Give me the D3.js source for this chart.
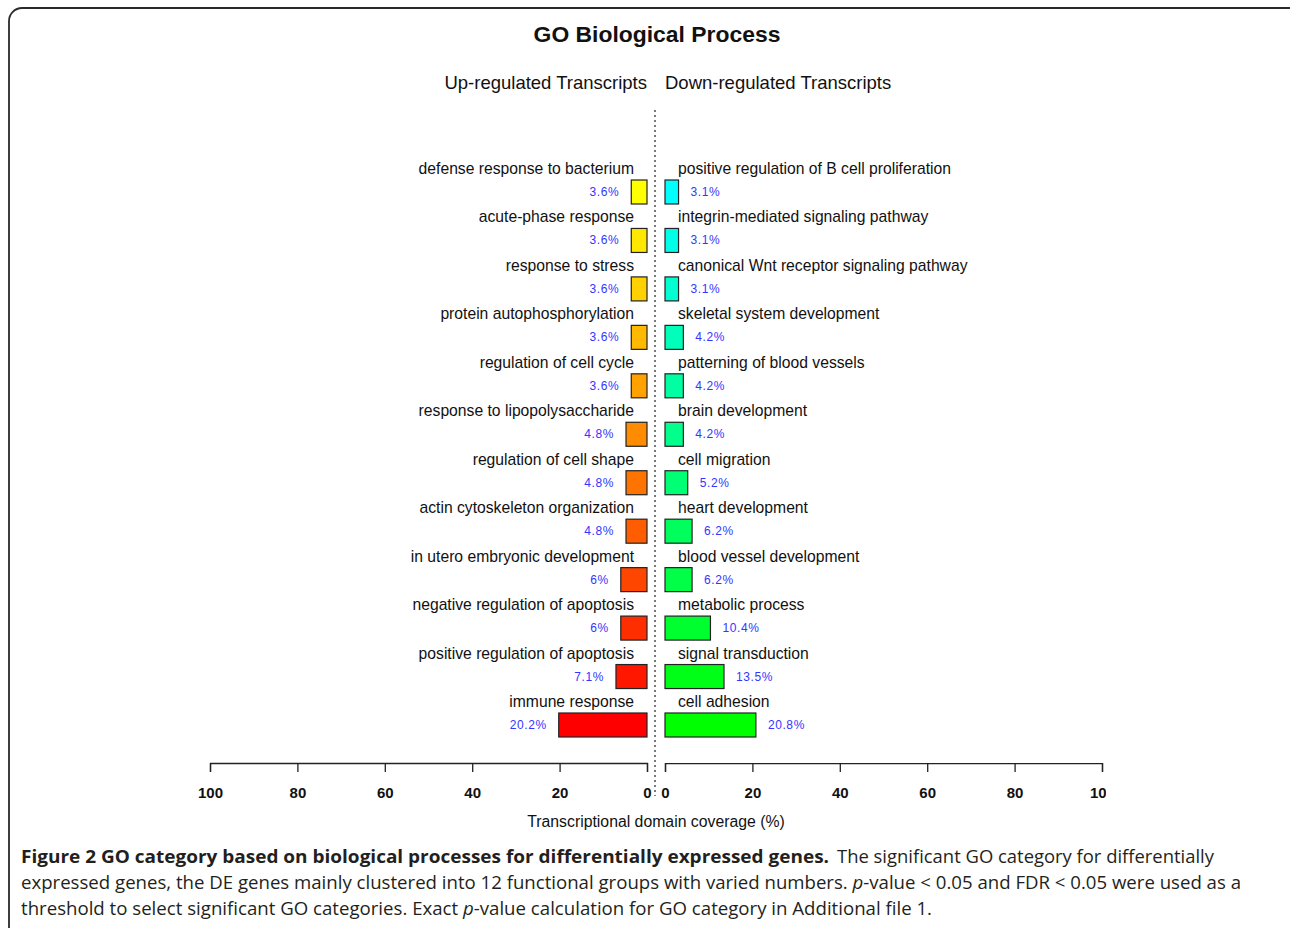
<!DOCTYPE html>
<meta charset="utf-8">
<html>
<head>
<script src="https://d3js.org/d3.v7.min.js"></script>
<style>
  body { margin: 0; background: #fff; }
  text { font-family: "Liberation Sans", Arial, sans-serif; }
  .caption text { font-family: "Open Sans", sans-serif; }
</style>
</head>
<body>
<svg id="chart" width="1290" height="928"></svg>
<script>
// categories and values, top to bottom
var upTerms = ["defense response to bacterium", "acute-phase response", "response to stress",
    "protein autophosphorylation", "regulation of cell cycle", "response to lipopolysaccharide",
    "regulation of cell shape", "actin cytoskeleton organization", "in utero embryonic development",
    "negative regulation of apoptosis", "positive regulation of apoptosis", "immune response"];
var upValues = [3.6, 3.6, 3.6, 3.6, 3.6, 4.8, 4.8, 4.8, 6, 6, 7.1, 20.2];

var downTerms = ["positive regulation of B cell proliferation", "integrin-mediated signaling pathway",
    "canonical Wnt receptor signaling pathway", "skeletal system development", "patterning of blood vessels",
    "brain development", "cell migration", "heart development", "blood vessel development",
    "metabolic process", "signal transduction", "cell adhesion"];
var downValues = [3.1, 3.1, 3.1, 4.2, 4.2, 4.2, 5.2, 6.2, 6.2, 10.4, 13.5, 20.8];

var tickValues = [0, 20, 40, 60, 80, 100];

var svg = d3.select("#chart");

// frame
svg.append("rect")
    .attr("x", 9).attr("y", 8).attr("width", 1300).attr("height", 940)
    .attr("rx", 13).attr("fill", "none").attr("stroke", "#2a2a2a").attr("stroke-width", 1.8);

// scales
var xLeft = d3.scaleLinear().domain([0, 100]).range([647, 210]);
var xRight = d3.scaleLinear().domain([0, 100]).range([665, 1102]);
var y = d3.scalePoint().domain(d3.range(upTerms.length)).range([192, 725]);
var barH = 24;
var upColor = d3.scaleLinear().domain([0, upTerms.length - 1]).range([60, 0]);
var downColor = d3.scaleLinear().domain([0, downTerms.length - 1]).range([180, 120]);

// title
svg.append("text").attr("x", 657).attr("y", 42).attr("text-anchor", "middle")
    .attr("font-size", 22.9).attr("font-weight", "bold").attr("fill", "#111")
    .text("GO Biological Process");
svg.append("text").attr("x", 647).attr("y", 89).attr("text-anchor", "end")
    .attr("font-size", 18.5).attr("fill", "#111").text("Up-regulated Transcripts");
svg.append("text").attr("x", 665).attr("y", 89).attr("text-anchor", "start")
    .attr("font-size", 18.5).attr("fill", "#111").text("Down-regulated Transcripts");

// center dotted line
svg.append("line").attr("x1", 655).attr("x2", 655).attr("y1", 110).attr("y2", 796)
    .attr("stroke", "#222").attr("stroke-width", 1.2).attr("stroke-dasharray", "2,3");

// up-regulated side
var up = svg.append("g").selectAll("g").data(upTerms).join("g");
up.append("rect")
    .attr("x", (d, i) => xLeft(upValues[i]))
    .attr("y", (d, i) => y(i) - barH / 2)
    .attr("width", (d, i) => xLeft(0) - xLeft(upValues[i]))
    .attr("height", barH)
    .attr("fill", (d, i) => d3.hsl(upColor(i), 1, 0.5))
    .attr("stroke", "#222").attr("stroke-width", 1.2);
up.append("text")
    .attr("x", xLeft(0) - 13).attr("y", (d, i) => y(i) - 18)
    .attr("text-anchor", "end").attr("font-size", 15.7).attr("fill", "#111")
    .text(d => d);
up.append("text")
    .attr("x", (d, i) => xLeft(upValues[i]) - 12).attr("y", (d, i) => y(i) + 4)
    .attr("text-anchor", "end").attr("font-size", 12).attr("letter-spacing", 0.6)
    .attr("fill", "#3535ff")
    .text((d, i) => upValues[i] + "%");

// down-regulated side
var down = svg.append("g").selectAll("g").data(downTerms).join("g");
down.append("rect")
    .attr("x", xRight(0))
    .attr("y", (d, i) => y(i) - barH / 2)
    .attr("width", (d, i) => xRight(downValues[i]) - xRight(0))
    .attr("height", barH)
    .attr("fill", (d, i) => d3.hsl(downColor(i), 1, 0.5))
    .attr("stroke", "#222").attr("stroke-width", 1.2);
down.append("text")
    .attr("x", xRight(0) + 13).attr("y", (d, i) => y(i) - 18)
    .attr("text-anchor", "start").attr("font-size", 15.7).attr("fill", "#111")
    .text(d => d);
down.append("text")
    .attr("x", (d, i) => xRight(downValues[i]) + 12).attr("y", (d, i) => y(i) + 4)
    .attr("text-anchor", "start").attr("font-size", 12).attr("letter-spacing", 0.6)
    .attr("fill", "#3535ff")
    .text((d, i) => downValues[i] + "%");

// axes
function styleAxis(g) {
    g.selectAll("path, line").attr("stroke", "#222").attr("stroke-width", 1.3);
    g.selectAll("text").attr("font-size", 15).attr("font-weight", "bold").attr("fill", "#111");
}
svg.append("clipPath").attr("id", "axclip").append("rect")
    .attr("x", 0).attr("y", 0).attr("width", 1106).attr("height", 928);

svg.append("g").attr("transform", "translate(0,763)")
    .call(d3.axisBottom(xLeft).tickValues(tickValues).tickSize(9).tickSizeOuter(9).tickPadding(15))
    .call(styleAxis);
svg.append("g").attr("transform", "translate(0,763)").attr("clip-path", "url(#axclip)")
    .call(d3.axisBottom(xRight).tickValues(tickValues).tickSize(9).tickSizeOuter(9).tickPadding(15))
    .call(styleAxis);

svg.append("text").attr("x", 656).attr("y", 827).attr("text-anchor", "middle")
    .attr("font-size", 15.8).attr("fill", "#111").text("Transcriptional domain coverage (%)");

// caption
var cap = svg.append("g").attr("class", "caption").attr("font-size", 18.5).attr("fill", "#231f20");
cap.append("text").attr("x", 21).attr("y", 863).attr("font-weight", "bold")
    .attr("textLength", 808).attr("lengthAdjust", "spacingAndGlyphs")
    .text("Figure 2 GO category based on biological processes for differentially expressed genes.");
cap.append("text").attr("x", 837).attr("y", 863)
    .attr("textLength", 377).attr("lengthAdjust", "spacingAndGlyphs")
    .text("The significant GO category for differentially");
var l2 = cap.append("text").attr("x", 21).attr("y", 889)
    .attr("textLength", 1220).attr("lengthAdjust", "spacingAndGlyphs");
l2.append("tspan").text("expressed genes, the DE genes mainly clustered into 12 functional groups with varied numbers. ");
l2.append("tspan").attr("font-style", "italic").text("p");
l2.append("tspan").text("-value < 0.05 and FDR < 0.05 were used as a");
var l3 = cap.append("text").attr("x", 21).attr("y", 915)
    .attr("textLength", 911).attr("lengthAdjust", "spacingAndGlyphs");
l3.append("tspan").text("threshold to select significant GO categories. Exact ");
l3.append("tspan").attr("font-style", "italic").text("p");
l3.append("tspan").text("-value calculation for GO category in Additional file 1.");
</script>
</body>
</html>
